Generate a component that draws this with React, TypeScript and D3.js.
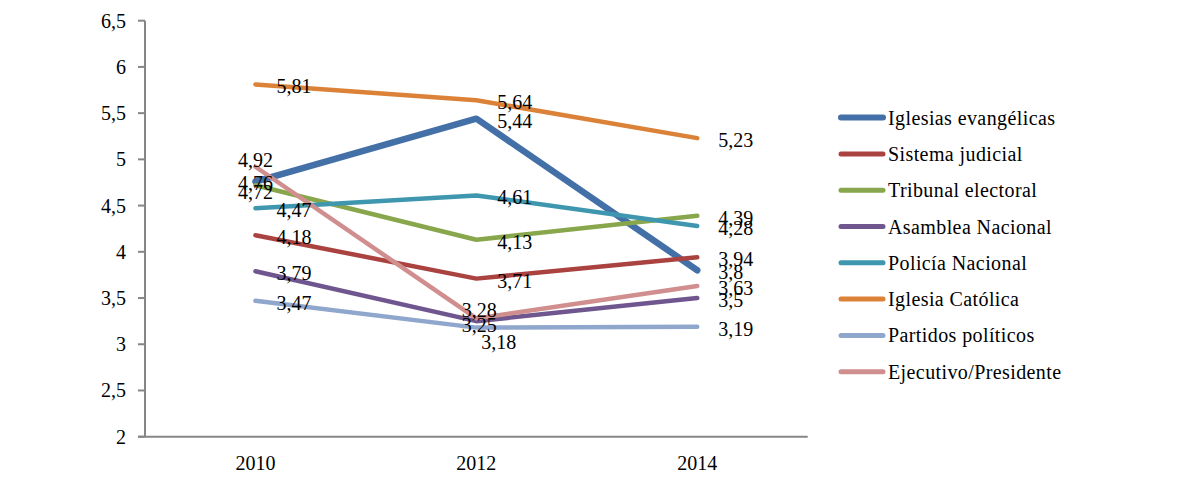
import * as d3 from "d3";

const years = ["2010", "2012", "2014"];

const seriesNames = [
  "Iglesias evangélicas",
  "Sistema judicial",
  "Tribunal electoral",
  "Asamblea Nacional",
  "Policía Nacional",
  "Iglesia Católica",
  "Partidos políticos",
  "Ejecutivo/Presidente",
];

const evangelicas = [4.76, 5.44, 3.8];
const judicial = [4.18, 3.71, 3.94];
const tribunal = [4.72, 4.13, 4.39];
const asamblea = [3.79, 3.25, 3.5];
const policia = [4.47, 4.61, 4.28];
const catolica = [5.81, 5.64, 5.23];
const partidos = [3.47, 3.18, 3.19];
const ejecutivo = [4.92, 3.28, 3.63];

const yTicks = [2, 2.5, 3, 3.5, 4, 4.5, 5, 5.5, 6, 6.5];

const seriesValues = [evangelicas, judicial, tribunal, asamblea, policia, catolica, partidos, ejecutivo];

const colors = ["#4470A8", "#AA4340", "#88A64B", "#6F568F", "#3F97AF", "#DB8238", "#8FA7CD", "#D08F8E"];

// label placement tweaks (series index, year index) -> [anchor, dx, dy]
const labelNudges = {
  "7-0": ["middle", 0, -7],
  "0-0": ["middle", 0, 1],
  "2-0": ["middle", 0, 7],
  "7-1": ["middle", 3, -8],
  "3-1": ["middle", 3, 4],
  "6-1": ["start", 5, 14],
};

const fmt = (v) => String(v).replace(".", ",");

export default function App() {
  const width = 1179;
  const height = 491;
  const left = 145;
  const right = 807.7;
  const top = 20.7;
  const bottom = 436.7;

  const x = d3.scaleBand().domain(years).range([left, right]);
  const y = d3.scaleLinear().domain([2, 6.5]).range([bottom, top]);
  const cx = (yr) => x(yr) + x.bandwidth() / 2;

  const line = d3
    .line()
    .x((d, i) => cx(years[i]))
    .y((d) => y(d));

  const textStyle = { fontFamily: '"Liberation Serif", "Times New Roman", serif', fontSize: 20 };

  return (
    <svg
      width={width}
      height={height}
      style={{ position: "absolute", left: 0, top: 0, background: "#fff" }}
    >
      {/* y axis */}
      <line x1={left} x2={left} y1={top} y2={bottom} stroke="#868686" strokeWidth={2} />
      {yTicks.map((t) => (
        <g key={t}>
          <line x1={left - 7} x2={left} y1={y(t)} y2={y(t)} stroke="#868686" strokeWidth={2} />
          <text x={left - 19} y={y(t)} dy="0.35em" textAnchor="end" style={textStyle} fill="#000">
            {fmt(t)}
          </text>
        </g>
      ))}
      {/* x axis */}
      <line x1={left - 7} x2={right} y1={bottom} y2={bottom} stroke="#868686" strokeWidth={2} />
      {years.map((yr) => (
        <text key={yr} x={cx(yr)} y={463} dy="0.35em" textAnchor="middle" style={textStyle} fill="#000">
          {yr}
        </text>
      ))}

      {/* lines */}
      {seriesValues.map((vals, si) => (
        <path
          key={si}
          d={line(vals)}
          fill="none"
          stroke={colors[si]}
          strokeWidth={si === 0 ? 6.5 : 4.5}
          strokeLinecap="round"
          strokeLinejoin="round"
        />
      ))}

      {/* data labels */}
      {seriesValues.map((vals, si) =>
        vals.map((v, yi) => {
          const nudge = labelNudges[`${si}-${yi}`];
          const anchor = nudge ? nudge[0] : "start";
          const dx = nudge ? nudge[1] : 21;
          const dy = nudge ? nudge[2] : 2;
          return (
            <text
              key={`${si}-${yi}`}
              x={cx(years[yi]) + dx}
              y={y(v) + dy}
              dy="0.35em"
              textAnchor={anchor}
              style={textStyle}
              fill="#000"
            >
              {fmt(v)}
            </text>
          );
        })
      )}

      {/* legend */}
      {seriesNames.map((name, i) => {
        const ly = 117.6 + i * 36.3;
        return (
          <g key={name}>
            <line
              x1={841}
              x2={883}
              y1={ly}
              y2={ly}
              stroke={colors[i]}
              strokeWidth={i === 0 ? 6 : 5}
              strokeLinecap="round"
            />
            <text x={888} y={ly} dy="0.35em" style={{ ...textStyle, letterSpacing: 0.4 }} fill="#000">
              {name}
            </text>
          </g>
        );
      })}
    </svg>
  );
}
